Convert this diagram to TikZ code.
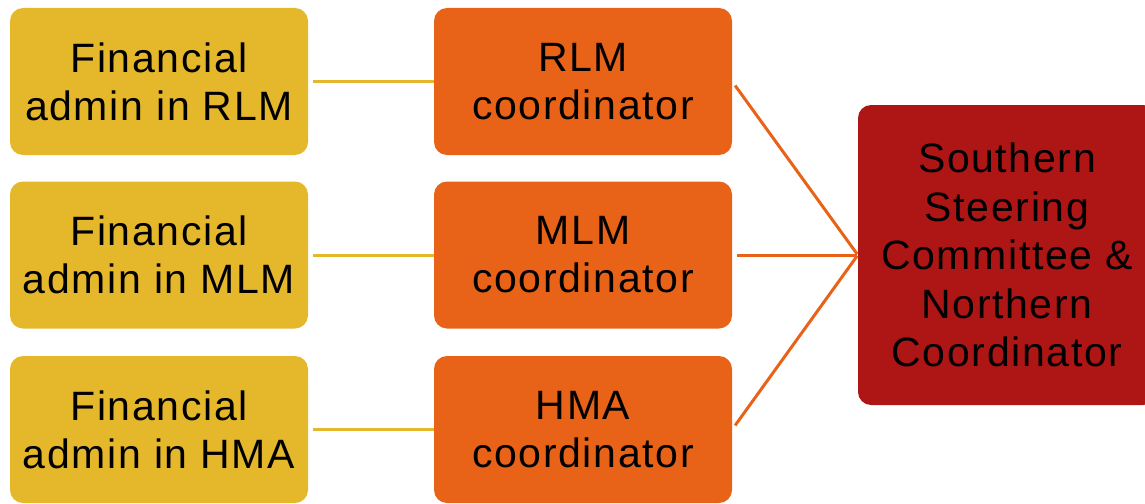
\documentclass[tikz,border=0pt]{standalone}
\usepackage{fontspec}
\setmainfont[LetterSpace=4]{Liberation Sans}
\definecolor{ylw}{HTML}{E5B72B}
\definecolor{org}{HTML}{E86218}
\definecolor{dred}{HTML}{AE1515}
\begin{document}
\begin{tikzpicture}[x=1pt,y=-1pt,
  box/.style={rounded corners=13pt, minimum width=298pt, minimum height=147pt, inner sep=0pt, align=center, font=\fontsize{41}{48}\selectfont, text=black},
  lbox/.style={box, fill=ylw},
  mbox/.style={box, fill=org},
  rbox/.style={box, fill=dred, minimum height=300pt, font=\fontsize{41}{48.5}\selectfont},
  yline/.style={draw=ylw, line width=3pt, shorten <=5pt},
  oline/.style={draw=org, line width=3pt, shorten <=5pt, shorten >=1pt}]
\useasboundingbox (0,0) rectangle (1145,503);
\begin{scope}
\clip (0,0) rectangle (1145,503);
\node[lbox] (l1) at (159,81.5) {Financial\\admin in RLM};
\node[lbox] (l2) at (159,255) {Financial\\admin in MLM};
\node[lbox] (l3) at (159,429.5) {Financial\\admin in HMA};
\node[mbox] (m1) at (583,81.5) {RLM\\coordinator};
\node[mbox] (m2) at (583,255) {MLM\\coordinator};
\node[mbox] (m3) at (583,429.5) {HMA\\coordinator};
\node[rbox] (r) at (1007,255) {Southern\\Steering\\Committee \&\\Northern\\Coordinator};
\draw[yline] (l1.east) -- (m1.west);
\draw[yline] (l2.east) -- (m2.west);
\draw[yline] (l3.east) -- (m3.west);
\draw[oline] (m1.east) -- (r.west);
\draw[oline] (m2.east) -- (r.west);
\draw[oline] (m3.east) -- (r.west);
\end{scope}
\end{tikzpicture}
\end{document}
